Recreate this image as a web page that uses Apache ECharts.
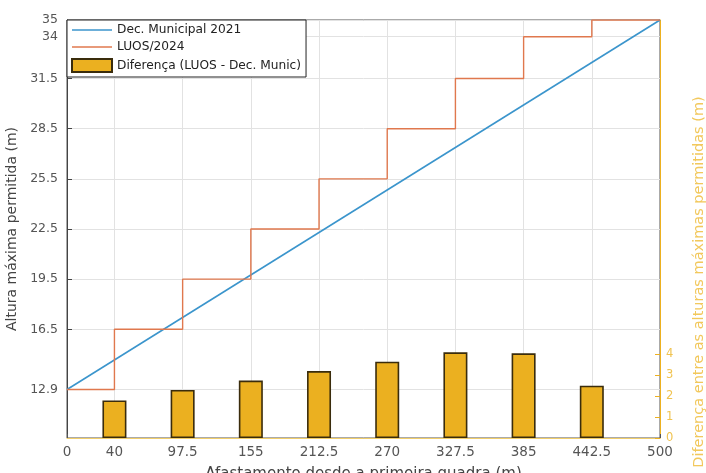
<!DOCTYPE html>
<html>
<head>
<meta charset="utf-8">
<script src="https://cdn.jsdelivr.net/npm/echarts@6/dist/echarts.min.js"></script>
<style>
  html, body { margin: 0; padding: 0; background: #fff; }
  #chart { width: 706px; height: 473px; }
</style>
</head>
<body>
<div id="chart"></div>
<script>
// distancias (m) dos degraus / ticks do eixo x
const xTicks = [0, 40, 97.5, 155, 212.5, 270, 327.5, 385, 442.5, 500];
const leftTicks = [12.9, 16.5, 19.5, 22.5, 25.5, 28.5, 31.5, 34, 35];
const rightTicks = [0, 1, 2, 3, 4];

// Dec. Municipal 2021 (reta)
const decX = [0, 500];
const decHeights = [12.9, 35];

// LUOS/2024 (escada)
const luosX = [0, 40, 97.5, 155, 212.5, 270, 327.5, 385, 442.5, 500];
const luosHeights = [12.9, 16.5, 19.5, 22.5, 25.5, 28.5, 31.5, 34, 35, 35];

// diferença nas barras
const barX = [40, 97.5, 155, 212.5, 270, 327.5, 385, 442.5];
const diffValues = [1.8, 2.3, 2.75, 3.2, 3.65, 4.1, 4.05, 2.5];

const blue = '#3b95cc';
const orange = '#e0784e';
const yellow = '#EDB120';
const font = 'DejaVu Sans';

const chart = echarts.init(document.getElementById('chart'));
const option = {
  animation: false,
  textStyle: { fontFamily: font },
  grid: {
    left: 67, right: 46, top: 20, bottom: 35,
    outerBoundsMode: 'none',
    containLabel: false,
    show: true,
    borderColor: '#555',
    borderWidth: 1,
    backgroundColor: '#fff'
  },
  legend: {
    left: 67, top: 20,
    orient: 'vertical',
    backgroundColor: '#fff',
    borderColor: '#222',
    borderWidth: 1,
    borderRadius: 0,
    padding: [4, 5, 4, 4],
    itemGap: 5,
    itemWidth: 40,
    itemHeight: 13,
    textStyle: { fontFamily: font, fontSize: 12.2, color: '#222' },
    data: [
      { name: 'Dec. Municipal 2021', icon: 'path://M0,0 L40,0 L40,1.6 L0,1.6 Z', itemStyle: { color: blue } },
      { name: 'LUOS/2024', icon: 'path://M0,0 L40,0 L40,1.6 L0,1.6 Z', itemStyle: { color: orange } },
      { name: 'Diferença (LUOS - Dec. Munic)', icon: 'rect' }
    ]
  },
  // nome do eixo direito (MATLAB não centra no eixo)
  graphic: [{
    type: 'text',
    x: 699, y: 282,
    rotation: Math.PI / 2,
    style: {
      text: 'Diferença entre as alturas máximas permitidas (m)',
      font: '14.5px "DejaVu Sans"',
      fill: '#f2c85c',
      align: 'center',
      verticalAlign: 'middle'
    }
  }],
  xAxis: {
    type: 'value',
    min: 0, max: 500,
    name: 'Afastamento desde a primeira quadra (m)',
    nameLocation: 'middle',
    nameGap: 29,
    nameTextStyle: { fontFamily: font, fontSize: 15, color: '#444' },
    axisLine: { show: true, lineStyle: { color: '#f0cd6a', width: 1 } },
    axisTick: { show: true, inside: true, length: 4, lineStyle: { color: '#555' }, customValues: xTicks },
    axisLabel: { customValues: xTicks, color: '#555', fontSize: 13.5, margin: 7, showMinLabel: true, showMaxLabel: true },
    splitLine: { show: true, lineStyle: { color: '#e2e2e2', width: 1 } }
  },
  yAxis: [
    {
      type: 'value',
      min: 10, max: 35,
      position: 'left',
      name: 'Altura máxima permitida (m)',
      nameLocation: 'middle',
      nameGap: 46,
      nameTextStyle: { fontFamily: font, fontSize: 14, color: '#444' },
      axisLine: { show: true, lineStyle: { color: '#444', width: 1 } },
      axisTick: { show: true, inside: true, length: 5, lineStyle: { color: '#444' }, customValues: leftTicks },
      axisLabel: { customValues: leftTicks, color: '#555', fontSize: 12.5, margin: 9, showMinLabel: true, showMaxLabel: true },
      splitLine: { show: true, lineStyle: { color: '#e2e2e2', width: 1 } }
    },
    {
      type: 'value',
      min: 0, max: 20,
      position: 'right',
      axisLine: { show: true, lineStyle: { color: yellow, width: 1 } },
      axisTick: { show: true, inside: true, length: 5, lineStyle: { color: yellow }, customValues: rightTicks },
      axisLabel: { customValues: rightTicks, color: '#f0c350', fontSize: 11.5, margin: 6 },
      splitLine: { show: false }
    }
  ],
  series: [
    {
      name: 'Dec. Municipal 2021',
      type: 'line',
      yAxisIndex: 0,
      showSymbol: false,
      symbol: 'none',
      lineStyle: { color: blue, width: 1.6 },
      itemStyle: { color: blue },
      z: 3,
      data: decX.map((x, i) => [x, decHeights[i]])
    },
    {
      name: 'LUOS/2024',
      type: 'line',
      yAxisIndex: 0,
      step: 'end',
      showSymbol: false,
      symbol: 'none',
      lineStyle: { color: orange, width: 1.4 },
      itemStyle: { color: orange },
      z: 3,
      data: luosX.map((x, i) => [x, luosHeights[i]])
    },
    {
      name: 'Diferença (LUOS - Dec. Munic)',
      type: 'bar',
      yAxisIndex: 1,
      barWidth: 24,
      itemStyle: { color: '#ebb020', borderColor: '#3a2c0c', borderWidth: 1.6 },
      z: 2,
      data: barX.map((x, i) => [x, diffValues[i]])
    }
  ]
};
chart.setOption(option);
</script>
</body>
</html>
